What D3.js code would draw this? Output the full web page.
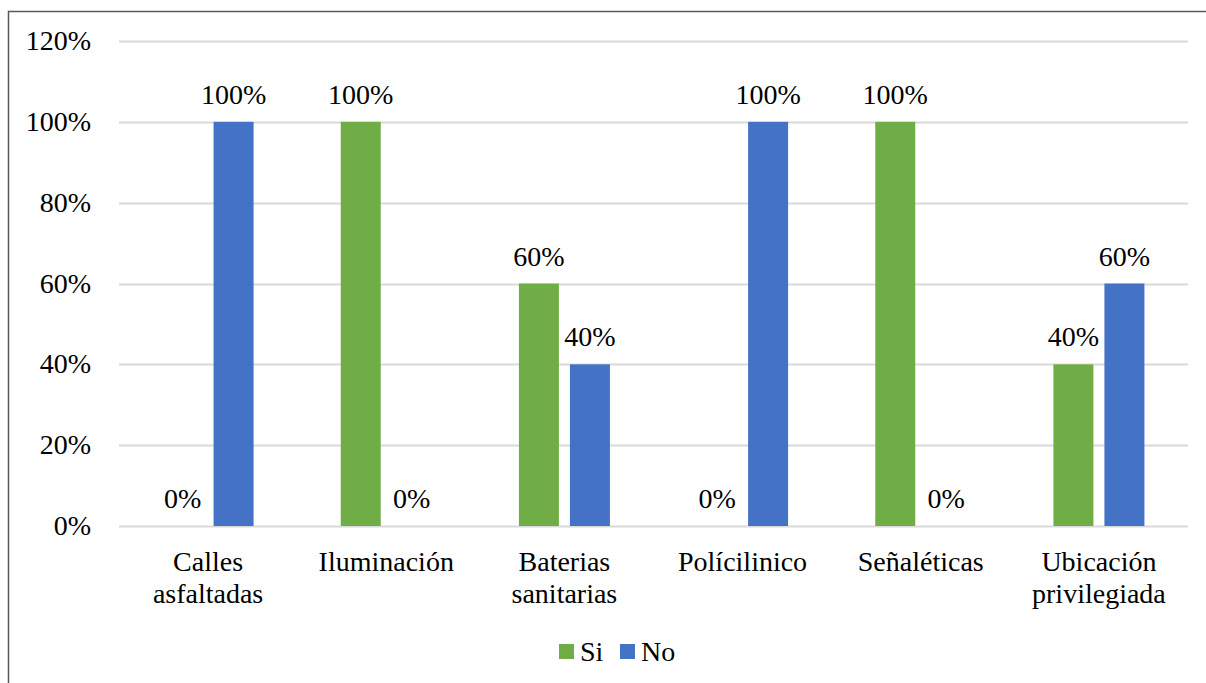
<!DOCTYPE html>
<html>
<head>
<meta charset="utf-8">
<script src="https://cdn.jsdelivr.net/npm/d3@7"></script>
<style>
  html, body { margin: 0; padding: 0; background: #fff; }
  svg { display: block; }
</style>
</head>
<body>
<svg id="chart" width="1206" height="683"></svg>
<script>
// Survey categories and the share of answers per option
const categories = [["Calles", "asfaltadas"], ["Iluminación"], ["Baterias", "sanitarias"], ["Polícilinico"], ["Señaléticas"], ["Ubicación", "privilegiada"]];
const seriesNames = ["Si", "No"];
const siValues = [0, 1, 0.6, 0, 1, 0.4];
const noValues = [1, 0, 0.4, 1, 0, 0.6];
const yTicks = [0, 0.2, 0.4, 0.6, 0.8, 1.0, 1.2];
const colors = ["#70AD47", "#4472C4"];

const svg = d3.select("#chart");
const W = 1206, H = 683;
const plot = { left: 119, right: 1188, top: 41, bottom: 526 };
const FS = 28;
const FONT = '"Liberation Serif"';

// Chart frame
svg.append("line").attr("x1", 8.5).attr("x2", 8.5).attr("y1", 11).attr("y2", H).attr("stroke", "#595959").attr("stroke-width", 1.5);
svg.append("line").attr("x1", 8).attr("x2", W).attr("y1", 11.5).attr("y2", 11.5).attr("stroke", "#595959").attr("stroke-width", 1.5);

const x0 = d3.scaleBand().domain(d3.range(categories.length)).range([plot.left, plot.right]).paddingInner(0).paddingOuter(0);
const y = d3.scaleLinear().domain([0, 1.2]).range([plot.bottom, plot.top]);
const barW = 40, gap = 11;
const x1 = d3.scaleOrdinal().domain([0, 1]).range([-(barW + gap / 2), gap / 2]);

// Gridlines
svg.append("g").selectAll("line").data(yTicks).join("line")
  .attr("x1", plot.left).attr("x2", plot.right)
  .attr("y1", d => Math.round(y(d)) + 0.5).attr("y2", d => Math.round(y(d)) + 0.5)
  .attr("stroke", "#d9d9d9").attr("stroke-width", 2);

// Y axis labels
const fmt = d3.format(".0%");
svg.append("g").selectAll("text").data(yTicks).join("text")
  .attr("x", 91).attr("y", d => y(d) + 9)
  .attr("text-anchor", "end").attr("font-size", FS).style("font-family", FONT)
  .text(d => fmt(d));

// Bars and value labels
const series = [siValues, noValues];
series.forEach((vals, s) => {
  const g = svg.append("g");
  g.selectAll("rect").data(vals).join("rect")
    .attr("x", (d, i) => x0(i) + x0.bandwidth() / 2 + x1(s))
    .attr("width", barW)
    .attr("y", d => y(d))
    .attr("height", d => y(0) - y(d))
    .attr("fill", colors[s]);
  g.selectAll("text").data(vals).join("text")
    .attr("x", (d, i) => x0(i) + x0.bandwidth() / 2 + x1(s) + barW / 2)
    .attr("y", d => y(d) - 18)
    .attr("text-anchor", "middle").attr("font-size", FS).style("font-family", FONT)
    .text(d => fmt(d));
});

// Category labels
const cat = svg.append("g").selectAll("text").data(categories).join("text")
  .attr("x", (d, i) => x0(i) + x0.bandwidth() / 2)
  .attr("y", 571)
  .attr("text-anchor", "middle").attr("font-size", FS).style("font-family", FONT);
cat.selectAll("tspan").data(d => d).join("tspan")
  .attr("x", function () { return d3.select(this.parentNode).attr("x"); })
  .attr("dy", (d, i) => i === 0 ? 0 : 32)
  .style("font-family", FONT)
  .text(d => d);

// Legend
const legend = svg.append("g");
const legendItems = [{ name: seriesNames[0], x: 559 }, { name: seriesNames[1], x: 620 }];
legendItems.forEach((it, i) => {
  legend.append("rect").attr("x", it.x).attr("y", 644).attr("width", 15).attr("height", 15).attr("fill", colors[i]);
  legend.append("text").attr("x", it.x + 21).attr("y", 661).attr("font-size", FS).style("font-family", FONT).text(it.name);
});
</script>
</body>
</html>
